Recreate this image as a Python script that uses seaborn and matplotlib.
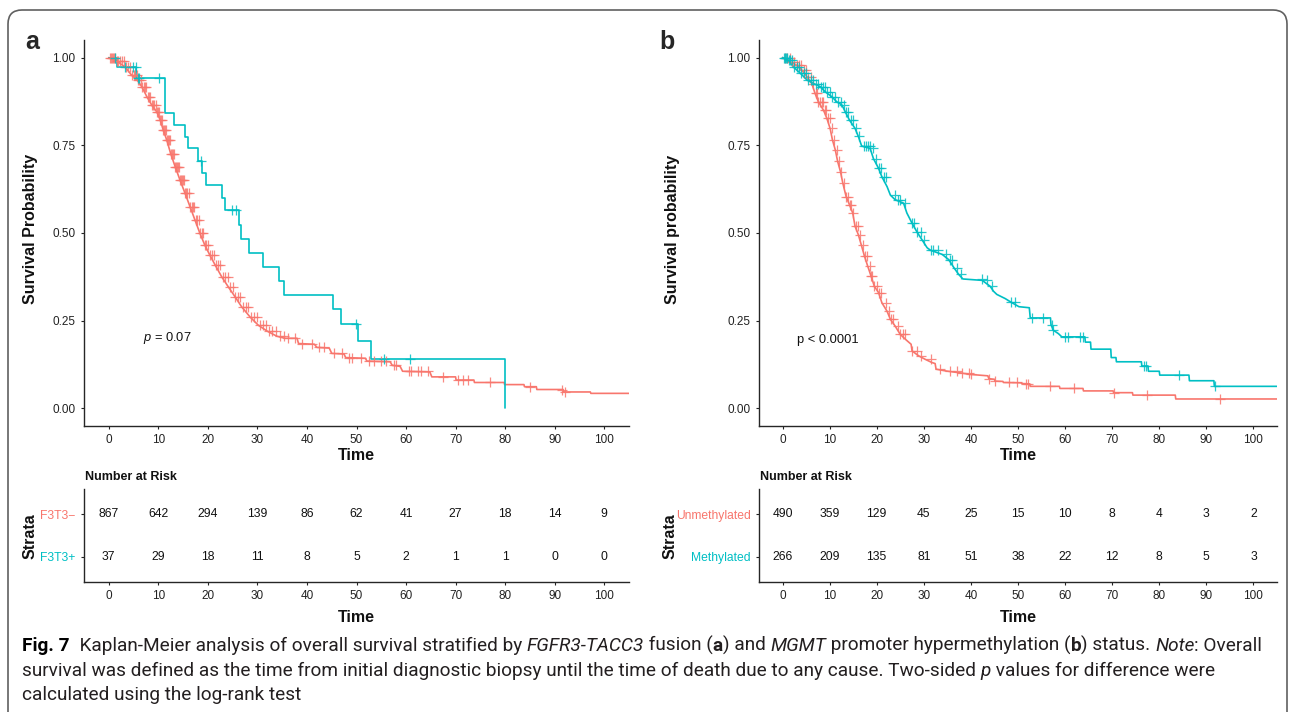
import numpy as np
import matplotlib
matplotlib.use("Agg")
import matplotlib.pyplot as plt
import seaborn as sns
from matplotlib import font_manager
from matplotlib.font_manager import FontProperties
from matplotlib.patches import FancyBboxPatch
from matplotlib.transforms import IdentityTransform

# ------------------------------------------------------------------ data
time_ticks = [0, 10, 20, 30, 40, 50, 60, 70, 80, 90, 100]
surv_ticks = [0.00, 0.25, 0.50, 0.75, 1.00]

# Panel a : F3T3- (red)  -- curve vertices (time, survival)
a_neg_t = [0, 1.6, 3.3, 4.6, 5.8, 6.7, 7.7, 8.7, 9.7, 10.4, 11.0, 11.7, 12.5, 13.4, 14.4,
           15.4, 16.4, 17.4, 18.4, 19.4, 20.4, 21.5, 22.8, 24.1, 25.5, 26.8, 28.5, 30.2,
           31.9, 33.9, 35.5, 38.0, 38.3, 41.5, 42.0, 44.5, 45.0, 47.5, 47.8, 51.8, 52.1,
           56.8, 57.2, 58.8, 59.3, 64.8, 65.2, 70.0, 70.1, 73.7, 73.8, 79.8, 79.9, 83.8,
           83.9, 86.3, 86.4, 91.7, 91.8, 97.2, 97.3, 105]
a_neg_s = [1.0, 0.99, 0.973, 0.95, 0.935, 0.916, 0.888, 0.864, 0.845, 0.821, 0.793, 0.765,
           0.726, 0.689, 0.65, 0.613, 0.575, 0.537, 0.499, 0.465, 0.437, 0.408, 0.375,
           0.347, 0.318, 0.29, 0.261, 0.237, 0.221, 0.206, 0.2, 0.2, 0.185, 0.183, 0.174,
           0.172, 0.157, 0.155, 0.145, 0.143, 0.135, 0.133, 0.123, 0.12, 0.106, 0.104,
           0.09, 0.09, 0.081, 0.081, 0.074, 0.074, 0.068, 0.068, 0.062, 0.062, 0.054,
           0.054, 0.047, 0.047, 0.043, 0.043]
a_neg_cens = [0.2, 0.4, 0.6, 0.8, 1.0, 1.3, 1.6, 1.9, 2.2, 2.6, 3.0, 3.4, 3.8, 4.2, 4.6,
              5.0, 5.3, 5.6, 5.9, 6.2, 6.5, 6.8, 7.1, 7.3, 7.6, 7.9, 8.2, 8.4, 8.7, 9.0,
              9.2, 9.5, 9.8, 10.0, 10.2, 10.4, 10.6, 10.8, 11.0, 11.2, 11.4, 11.6, 11.8,
              12.0, 12.2, 12.4, 12.6, 12.8, 13.0, 13.2, 13.4, 13.6, 13.8, 14.0, 14.2, 14.4,
              14.6, 14.8, 15.0, 15.2, 15.4, 15.6, 15.8, 16.1, 16.4, 16.7, 17.0, 17.3, 17.6,
              17.9, 18.2, 18.5, 18.8, 19.1, 19.4, 19.7, 20.0, 20.4, 20.8, 21.2, 21.6, 22.0,
              22.5, 23.0, 23.5, 24.0, 24.5, 25.0, 25.5, 26.0, 26.5, 27.0, 27.6, 28.2, 28.8,
              29.4, 30.0, 30.6, 31.2, 31.8, 32.4, 33.0, 33.8, 34.6, 35.4, 36.2, 37.5, 39.0,
              41.0, 42.5, 43.5, 45.5, 47.0, 48.5, 49.0, 51.0, 52.5, 53.5, 55.0, 56.0, 57.5,
              58.0, 60.5, 61.0, 62.5, 63.0, 64.5, 67.5, 70.5, 71.5, 72.5, 77.0, 85.0, 91.5,
              92.0]

# Panel a : F3T3+ (teal)  -- step curve
a_pos_t = [0, 1.6, 5.5, 11.4, 13.2, 15.4, 15.9, 18.1, 18.9, 19.6, 22.8, 23.5, 26.2, 26.6,
           28.4, 31.1, 34.3, 35.4, 45.3, 46.8, 50.3, 52.9, 79.9]
a_pos_s = [1.0, 0.973, 0.943, 0.841, 0.807, 0.774, 0.741, 0.706, 0.671, 0.636, 0.601,
           0.565, 0.524, 0.484, 0.443, 0.404, 0.363, 0.322, 0.282, 0.241, 0.192, 0.142, 0.0]
a_pos_cens = [1.2, 3.3, 4.9, 5.4, 5.8, 6.1, 10.1, 18.6, 24.9, 25.7, 49.9, 55.5, 60.7]

a_risk_neg = [867, 642, 294, 139, 86, 62, 41, 27, 18, 14, 9]
a_risk_pos = [37, 29, 18, 11, 8, 5, 2, 1, 1, 0, 0]

# Panel b : Unmethylated (red)
b_un_t = [0, 1.6, 3.0, 4.1, 5.2, 6.2, 6.9, 7.6, 8.7, 9.4, 10.1, 10.6, 11.2, 11.7, 12.3,
          12.8, 13.5, 14.2, 14.9, 15.4, 16.1, 16.7, 17.4, 18.1, 18.8, 19.5, 20.4, 21.1,
          22.2, 22.9, 23.9, 25.0, 26.1, 27.3, 27.5, 28.9, 30.3, 31.7, 32.4, 32.6, 34.6,
          37.4, 39.9, 43.6, 43.8, 45.0, 45.1, 46.8, 46.9, 50.7, 50.8, 52.5, 52.6, 58.8,
          58.9, 63.8, 63.9, 70.2, 70.3, 74.3, 74.4, 83.4, 83.5, 105]
b_un_s = [1.0, 0.988, 0.978, 0.964, 0.945, 0.926, 0.898, 0.874, 0.85, 0.827, 0.798, 0.765,
          0.737, 0.704, 0.675, 0.642, 0.604, 0.581, 0.557, 0.519, 0.495, 0.467, 0.434,
          0.405, 0.377, 0.348, 0.33, 0.301, 0.277, 0.254, 0.235, 0.211, 0.197, 0.183,
          0.164, 0.15, 0.14, 0.131, 0.128, 0.112, 0.107, 0.102, 0.097, 0.093, 0.085,
          0.083, 0.078, 0.077, 0.074, 0.073, 0.071, 0.07, 0.063, 0.063, 0.057, 0.057,
          0.05, 0.05, 0.045, 0.045, 0.038, 0.038, 0.027, 0.027]
b_un_cens = [0.5, 1.0, 1.5, 2.0, 2.5, 3.0, 3.5, 4.0, 4.5, 5.0, 5.5, 6.0, 6.5, 7.0, 7.3,
             7.6, 8.0, 8.3, 8.6, 9.0, 9.3, 9.6, 10.0, 10.5, 11.0, 11.5, 12.0, 12.5, 13.0,
             13.5, 14.0, 14.3, 14.6, 15.0, 15.5, 16.0, 16.5, 17.0, 17.5, 18.0, 18.5, 18.8,
             19.0, 19.5, 20.0, 20.5, 21.0, 22.0, 22.5, 23.0, 23.5, 24.5, 25.0, 25.5, 26.0,
             27.5, 28.5, 29.5, 31.5, 33.5, 35.5, 37.0, 38.2, 39.5, 40.0, 43.8, 45.1, 48.0,
             49.7, 51.7, 52.2, 56.7, 61.9, 70.3, 77.4, 92.8]

# Panel b : Methylated (teal)
b_me_t = [0, 1.3, 2.3, 3.8, 5.2, 6.6, 8.0, 9.1, 10.5, 11.5, 12.6, 13.3, 14.2, 15.4, 16.1,
          16.8, 18.6, 19.3, 20.4, 21.1, 22.2, 22.9, 23.9, 25.7, 26.4, 27.5, 28.5, 29.6,
          30.7, 31.4, 33.9, 35.3, 36.4, 37.4, 38.3, 42.4, 44.1, 44.8, 45.5, 47.3, 48.5,
          50.2, 52.4, 52.6, 56.9, 57.0, 57.5, 58.6, 59.3, 64.2, 64.3, 65.4, 65.5, 69.7,
          69.8, 70.8, 70.9, 76.2, 76.3, 77.6, 77.7, 80.0, 80.1, 86.3, 86.4, 91.6, 91.7, 105]
b_me_s = [1.0, 0.992, 0.973, 0.955, 0.936, 0.926, 0.917, 0.902, 0.888, 0.874, 0.865, 0.846,
          0.822, 0.798, 0.775, 0.748, 0.741, 0.712, 0.684, 0.66, 0.632, 0.608, 0.595,
          0.585, 0.557, 0.528, 0.504, 0.481, 0.458, 0.451, 0.439, 0.424, 0.401, 0.382,
          0.369, 0.365, 0.348, 0.334, 0.325, 0.313, 0.303, 0.29, 0.287, 0.258, 0.258,
          0.239, 0.223, 0.213, 0.204, 0.204, 0.189, 0.189, 0.169, 0.169, 0.145, 0.145,
          0.133, 0.133, 0.121, 0.121, 0.106, 0.106, 0.095, 0.095, 0.079, 0.079, 0.063, 0.063]
b_me_cens = [0.3, 0.5, 0.8, 1.0, 1.3, 1.6, 2.0, 2.5, 3.0, 3.5, 4.0, 4.5, 5.0, 5.5, 6.0,
             6.5, 7.0, 7.6, 8.2, 8.6, 9.0, 9.5, 10.0, 10.6, 11.2, 11.8, 12.5, 13.0, 13.5,
             14.0, 14.5, 15.0, 15.6, 16.2, 17.2, 17.8, 18.2, 18.5, 19.2, 19.8, 20.5, 21.0,
             21.5, 22.0, 23.8, 24.5, 25.0, 26.0, 27.5, 28.0, 28.5, 29.5, 30.0, 31.5, 32.0,
             33.0, 34.7, 35.5, 36.0, 37.0, 38.0, 42.3, 43.5, 44.4, 48.5, 49.4, 53.0, 55.4,
             57.2, 57.5, 60.0, 60.7, 63.2, 63.9, 76.7, 77.2, 84.1, 91.9]

b_risk_un = [490, 359, 129, 45, 25, 15, 10, 8, 4, 3, 2]
b_risk_me = [266, 209, 135, 81, 51, 38, 22, 12, 8, 5, 3]

RED = "#F8766D"
TEAL = "#00BFC4"

# ------------------------------------------------------------------ style
sns.set_style("ticks")
names = {f.name for f in font_manager.fontManager.ttflist}
main_family = "Liberation Sans" if "Liberation Sans" in names else "DejaVu Sans"
plt.rcParams["font.family"] = [main_family, "DejaVu Sans"]
plt.rcParams["mathtext.fontset"] = "custom"
plt.rcParams["mathtext.rm"] = main_family
plt.rcParams["mathtext.it"] = main_family + ":italic"
plt.rcParams["axes.linewidth"] = 1.0
plt.rcParams["xtick.major.width"] = 0.8
plt.rcParams["ytick.major.width"] = 0.8
plt.rcParams["xtick.major.size"] = 2.5
plt.rcParams["ytick.major.size"] = 2.5
plt.rcParams["xtick.color"] = "#222222"
plt.rcParams["ytick.color"] = "#222222"

W, H = 1291, 712
fig = plt.figure(figsize=(W / 100, H / 100), dpi=100)
fig.patch.set_facecolor("white")

TICK_FS = 8.5
TITLE_FS = 11.5


def ax_px(left, top, right, bottom):
    return fig.add_axes([left / W, 1 - bottom / H, (right - left) / W, (bottom - top) / H])


def fx(x):
    return x / W


def fy(y):
    return 1 - y / H


def step_lookup(t, s, c):
    t = np.asarray(t)
    s = np.asarray(s)
    idx = np.searchsorted(t, c, side="right") - 1
    return s[np.clip(idx, 0, len(s) - 1)]


def km_panel(ax, curves, ptext, px, py):
    for t, s, cens, color, ds in curves:
        sns.lineplot(x=t, y=s, ax=ax, color=color, linewidth=1.2, drawstyle=ds,
                     estimator=None, sort=False)
        cy = step_lookup(t, s, cens)
        sns.scatterplot(x=cens, y=cy, ax=ax, marker="+", s=42, color=color,
                        linewidth=0.9, alpha=0.85, zorder=3)
    ax.set_xlim(-5, 105)
    ax.set_ylim(-0.05, 1.05)
    ax.set_xticks(time_ticks)
    ax.set_xticklabels([str(v) for v in time_ticks], fontsize=TICK_FS)
    ax.set_yticks(surv_ticks)
    ax.set_yticklabels(["%.2f" % v for v in surv_ticks], fontsize=TICK_FS)
    ax.set_xlabel("")
    ax.set_ylabel("")
    for sp in ["top", "right"]:
        ax.spines[sp].set_visible(False)
    ax.text(px, py, ptext, fontsize=9.3, va="center", ha="left", color="#111111")


def risk_panel(ax, labels, rows):
    for r, vals in zip([1, 0], rows):
        for t, v in zip(time_ticks, vals):
            ax.text(t, r, str(v), ha="center", va="center", fontsize=8.7, color="#111111")
    ax.set_xlim(-5, 105)
    ax.set_ylim(-0.6, 1.6)
    ax.set_xticks(time_ticks)
    ax.set_xticklabels([str(v) for v in time_ticks], fontsize=TICK_FS)
    ax.set_yticks([1, 0])
    ax.set_yticklabels(labels, fontsize=8.7)
    for lab, col in zip(ax.get_yticklabels(), [RED, TEAL]):
        lab.set_color(col)
    for sp in ["top", "right"]:
        ax.spines[sp].set_visible(False)


# ------------------------------------------------------------------ panel a
axa = ax_px(84, 40, 629, 426)
km_panel(axa, [(a_neg_t, a_neg_s, a_neg_cens, RED, "default"),
               (a_pos_t, a_pos_s, a_pos_cens, TEAL, "steps-post")],
         r"$\mathit{p}$ = 0.07", 7.0, 0.2)
ra = ax_px(84, 489, 629, 582)
risk_panel(ra, ["F3T3\u2212", "F3T3+"], [a_risk_neg, a_risk_pos])

# ------------------------------------------------------------------ panel b
axb = ax_px(759, 40, 1277, 426)
km_panel(axb, [(b_un_t, b_un_s, b_un_cens, RED, "default"),
               (b_me_t, b_me_s, b_me_cens, TEAL, "default")],
         "p < 0.0001", 3.0, 0.195)
rb = ax_px(759, 489, 1277, 582)
risk_panel(rb, ["Unmethylated", "Methylated"], [b_risk_un, b_risk_me])

# ------------------------------------------------------------------ labels
for (xl, lab_y, cx) in [(31, "Survival Probability", 356), (672, "Survival probability", 1018)]:
    fig.text(fx(xl), fy(229), lab_y, rotation=90, ha="center", va="center",
             fontsize=TITLE_FS, fontweight="bold", color="#111111")
    fig.text(fx(cx), fy(455), "Time", ha="center", va="center", fontsize=TITLE_FS,
             fontweight="bold", color="#111111")
    fig.text(fx(cx), fy(617), "Time", ha="center", va="center", fontsize=TITLE_FS,
             fontweight="bold", color="#111111")
for (xs, xn) in [(30, 85), (670, 760)]:
    fig.text(fx(xs), fy(536), "Strata", rotation=90, ha="center", va="center",
             fontsize=TITLE_FS, fontweight="bold", color="#111111")
    fig.text(fx(xn), fy(477), "Number at Risk", ha="left", va="center",
             fontsize=9, fontweight="bold", color="#111111")
fig.text(fx(25), fy(42), "a", ha="left", va="center", fontsize=18, fontweight="bold")
fig.text(fx(659), fy(42), "b", ha="left", va="center", fontsize=18, fontweight="bold")

# ------------------------------------------------------------------ frame
frame = FancyBboxPatch((8, -40), 1279, 742, boxstyle="round,pad=0,rounding_size=14",
                       transform=IdentityTransform(), fill=False, edgecolor="#606060",
                       linewidth=1.2)
fig.patches.append(frame)

# ------------------------------------------------------------------ caption
cap_family = main_family
for cand in ["Liberation Sans Narrow", "Roboto", "Liberation Sans"]:
    if cand in names:
        cap_family = cand
        break

renderer = fig.canvas.get_renderer()
CAPC = "#231F20"


def seg_width(s, prop):
    w1 = renderer.get_text_width_height_descent("|" + s + "|", prop, ismath=False)[0]
    w0 = renderer.get_text_width_height_descent("||", prop, ismath=False)[0]
    return w1 - w0


def prop_for(style, size):
    if style == "b":
        return FontProperties(family=cap_family, weight="bold", size=size)
    if style == "i":
        return FontProperties(family=cap_family, style="italic", size=size)
    return FontProperties(family=cap_family, size=size)


lines = [
    [("Fig. 7", "b"), ("  Kaplan-Meier analysis of overall survival stratified by ", "n"),
     ("FGFR3-TACC3", "i"), (" fusion (", "n"), ("a", "b"), (") and ", "n"), ("MGMT", "i"),
     (" promoter hypermethylation (", "n"), ("b", "b"), (") status. ", "n"), ("Note", "i"),
     (": Overall", "n")],
    [("survival was defined as the time from initial diagnostic biopsy until the time of "
      "death due to any cause. Two-sided ", "n"), ("p", "i"),
     (" values for difference were", "n")],
    [("calculated using the log-rank test", "n")],
]

ref_size = 10.0
w_ref = sum(seg_width(s, prop_for(st, ref_size)) for s, st in lines[0])
cap_size = ref_size * (1240.0 / w_ref)

baselines = [651, 676, 700]
for segs, yb in zip(lines, baselines):
    x = 22.0
    for s, st in segs:
        p = prop_for(st, cap_size)
        fig.text(fx(x), fy(yb), s, fontproperties=p, ha="left", va="baseline",
                 color="black" if st == "b" and s.startswith("Fig") else CAPC)
        x += seg_width(s, p)

fig.savefig("out.png", dpi=100)
